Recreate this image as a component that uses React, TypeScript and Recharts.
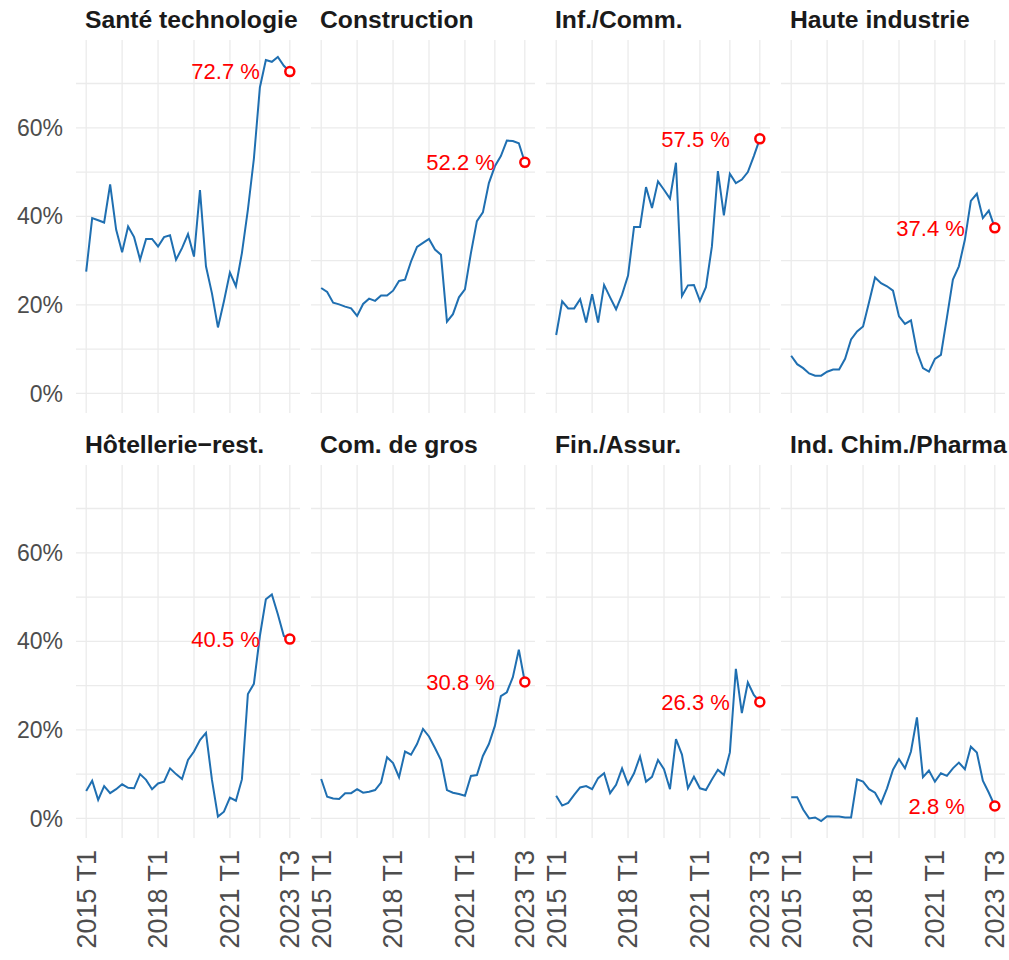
import React from "react";
import { LineChart, Line, XAxis, YAxis, ReferenceLine } from "recharts";

const quarters = [
  "2015 T1", "2015 T2", "2015 T3", "2015 T4",
  "2016 T1", "2016 T2", "2016 T3", "2016 T4",
  "2017 T1", "2017 T2", "2017 T3", "2017 T4",
  "2018 T1", "2018 T2", "2018 T3", "2018 T4",
  "2019 T1", "2019 T2", "2019 T3", "2019 T4",
  "2020 T1", "2020 T2", "2020 T3", "2020 T4",
  "2021 T1", "2021 T2", "2021 T3", "2021 T4",
  "2022 T1", "2022 T2", "2022 T3", "2022 T4",
  "2023 T1", "2023 T2", "2023 T3",
];

// tick positions on the quarter index; labelled ones are the majors
const majorTicks = [0, 12, 24, 34];
const minorTicks = [6, 18, 29];
const yMajor = [0, 20, 40, 60];
const yMinor = [10, 30, 50, 70];

// % of firms
const santeTechnologie = [27.5, 39.6, 39.1, 38.6, 47.2, 37.0, 31.9, 37.7, 35.3, 30.2, 34.9, 34.9, 33.2, 35.3, 35.7, 30.2, 32.8, 36.0, 30.9, 45.9, 28.7, 22.6, 14.9, 20.8, 27.3, 24.2, 31.7, 41.5, 53.0, 69.1, 75.3, 74.9, 76.0, 74.0, 72.7];
const construction = [23.8, 22.9, 20.5, 20.1, 19.6, 19.2, 17.5, 20.2, 21.4, 20.9, 22.1, 22.1, 23.2, 25.4, 25.7, 29.8, 33.1, 34.0, 34.9, 32.5, 31.3, 16.2, 17.9, 21.7, 23.5, 31.7, 38.9, 40.9, 47.5, 51.3, 53.6, 57.1, 57.0, 56.5, 52.2];
const infComm = [13.2, 20.8, 19.2, 19.2, 21.3, 16.0, 22.4, 16.0, 24.5, 21.7, 19.0, 22.3, 26.6, 37.6, 37.6, 46.6, 41.9, 47.9, 46.0, 44.0, 52.1, 22.0, 24.4, 24.5, 20.9, 24.0, 33.2, 50.2, 40.2, 49.6, 47.5, 48.3, 50.0, 53.6, 57.5];
const hauteIndustrie = [8.5, 6.6, 5.7, 4.5, 4.0, 4.0, 4.9, 5.4, 5.4, 7.8, 12.2, 14.0, 15.1, 20.6, 26.2, 24.9, 24.2, 23.2, 17.4, 15.7, 16.5, 9.4, 5.7, 4.9, 7.8, 8.7, 17.1, 25.7, 28.7, 34.7, 43.5, 45.1, 39.6, 41.3, 37.4];
const hotellerieRest = [6.2, 8.5, 4.2, 7.3, 5.7, 6.6, 7.7, 6.9, 6.8, 10.0, 8.7, 6.6, 7.9, 8.3, 11.3, 10.0, 8.9, 13.2, 15.1, 17.7, 19.3, 8.7, 0.4, 1.5, 4.7, 4.0, 8.8, 28.1, 30.4, 41.2, 49.5, 50.6, 46.1, 41.2, 40.5];
const comDeGros = [8.9, 4.9, 4.5, 4.4, 5.7, 5.7, 6.6, 5.8, 6.0, 6.4, 8.1, 13.8, 12.5, 9.3, 15.1, 14.4, 16.8, 20.2, 18.5, 15.9, 13.2, 6.4, 5.8, 5.5, 5.1, 9.6, 9.8, 14.1, 16.8, 20.9, 27.6, 28.5, 31.9, 38.1, 30.8];
const finAssur = [5.1, 2.9, 3.5, 5.3, 7.0, 7.3, 6.6, 9.1, 10.2, 5.7, 7.6, 11.3, 7.7, 10.2, 14.0, 8.3, 9.4, 13.2, 11.1, 6.6, 17.9, 14.4, 6.8, 9.4, 6.8, 6.4, 8.8, 11.0, 9.8, 14.9, 33.8, 23.8, 30.7, 27.9, 26.3];
const indChimPharma = [4.8, 4.8, 2.0, 0.0, 0.2, -0.6, 0.5, 0.4, 0.4, 0.2, 0.2, 8.8, 8.3, 6.6, 5.8, 3.4, 6.8, 11.0, 13.4, 11.3, 15.1, 22.8, 9.3, 10.8, 8.3, 10.2, 9.6, 11.3, 12.6, 11.1, 16.2, 14.9, 8.5, 5.8, 2.8];

const panels = [
  { title: "Santé technologie", values: santeTechnologie },
  { title: "Construction", values: construction },
  { title: "Inf./Comm.", values: infComm },
  { title: "Haute industrie", values: hauteIndustrie },
  { title: "Hôtellerie\u2212rest.", values: hotellerieRest },
  { title: "Com. de gros", values: comDeGros },
  { title: "Fin./Assur.", values: finAssur },
  { title: "Ind. Chim./Pharma", values: indChimPharma },
];

const FONT = "'Liberation Sans', Arial, Helvetica, sans-serif";
const LINE = "#1f6fb1";
const GRID = "#ebebeb";
const AXIS_TEXT = "#4d4d4d";

const PLOT_W = 224;
const PLOT_H = 373;
const Y_AXIS_W = 70;
const X_AXIS_H = 130;
const RIGHT_PAD = 20;

// shared scales, ggplot style 5% expansion
const allValues = panels.flatMap((p) => p.values);
const yMin = Math.min(...allValues);
const yMax = Math.max(...allValues);
const yPad = (yMax - yMin) * 0.05;
const xPad = (quarters.length - 1) * 0.05;

const xTicks = [...majorTicks, ...minorTicks].sort((a, b) => a - b);
const yTicks = [...yMajor, ...yMinor].sort((a, b) => a - b);

function XTick(props: any) {
  const { x, y, payload, show } = props;
  if (!show || !majorTicks.includes(payload.value)) return <g />;
  return (
    <text
      x={x}
      y={y}
      transform={`rotate(-90 ${x} ${y})`}
      textAnchor="end"
      dy="0.35em"
      fontSize={27}
      fill={AXIS_TEXT}
      fontFamily={FONT}
    >
      {quarters[payload.value]}
    </text>
  );
}

function Panel({ title, values, col, row }: { title: string; values: number[]; col: number; row: number }) {
  const data = values.map((v, i) => ({ i, v }));
  const last = values.length - 1;
  const plotLeft = 76 + col * 235;
  const plotTop = 40 + row * 425;

  const renderDot = (p: any) => {
    if (p.index !== last) return <g key={`d${p.index}`} />;
    return (
      <g key={`d${p.index}`}>
        <text x={p.cx - 30} y={p.cy} dy="0.35em" textAnchor="end" fontSize={22} fill="#ff0000" fontFamily={FONT}>
          {`${p.value.toFixed(1)} %`}
        </text>
        <circle cx={p.cx} cy={p.cy} r={4.5} fill="#ffffff" stroke="#ff0000" strokeWidth={2.5} />
      </g>
    );
  };

  return (
    <>
      <div
        style={{
          position: "absolute",
          left: plotLeft + 9,
          top: plotTop - 32,
          fontSize: 24.7,
          lineHeight: "24px",
          fontWeight: "bold",
          color: "#1a1a1a",
          whiteSpace: "nowrap",
        }}
      >
        {title}
      </div>
      <div style={{ position: "absolute", left: plotLeft - Y_AXIS_W, top: plotTop }}>
        <LineChart
          width={Y_AXIS_W + PLOT_W + RIGHT_PAD}
          height={PLOT_H + X_AXIS_H}
          data={data}
          margin={{ top: 0, right: RIGHT_PAD, left: 0, bottom: 0 }}
        >
          <XAxis
            dataKey="i"
            type="number"
            domain={[-xPad, last + xPad]}
            ticks={xTicks}
            interval={0}
            height={X_AXIS_H}
            axisLine={false}
            tickLine={false}
            tickSize={0}
            tickMargin={12}
            tick={<XTick show={row === 1} />}
          />
          <YAxis
            type="number"
            domain={[yMin - yPad, yMax + yPad]}
            ticks={yTicks}
            interval={0}
            width={Y_AXIS_W}
            axisLine={false}
            tickLine={false}
            tickSize={0}
            tickMargin={13}
            allowDataOverflow
            tickFormatter={(v: number) => (col === 0 && yMajor.includes(v) ? `${v}%` : "")}
            tick={{ fontSize: 23, fill: AXIS_TEXT, fontFamily: FONT }}
          />
          {yTicks.map((t) => (
            <ReferenceLine key={`y${t}`} y={t} stroke={GRID} strokeWidth={1.3} />
          ))}
          {xTicks.map((t) => (
            <ReferenceLine key={`x${t}`} x={t} stroke={GRID} strokeWidth={1.3} />
          ))}
          <Line
            type="linear"
            dataKey="v"
            stroke={LINE}
            strokeWidth={2}
            dot={renderDot}
            activeDot={false}
            isAnimationActive={false}
          />
        </LineChart>
      </div>
    </>
  );
}

export default function App() {
  return (
    <div
      style={{
        position: "absolute",
        left: 0,
        top: 0,
        width: 1009,
        height: 960,
        overflow: "hidden",
        background: "#ffffff",
        fontFamily: FONT,
      }}
    >
      {panels.map((p, k) => (
        <Panel key={p.title} title={p.title} values={p.values} col={k % 4} row={Math.floor(k / 4)} />
      ))}
    </div>
  );
}
